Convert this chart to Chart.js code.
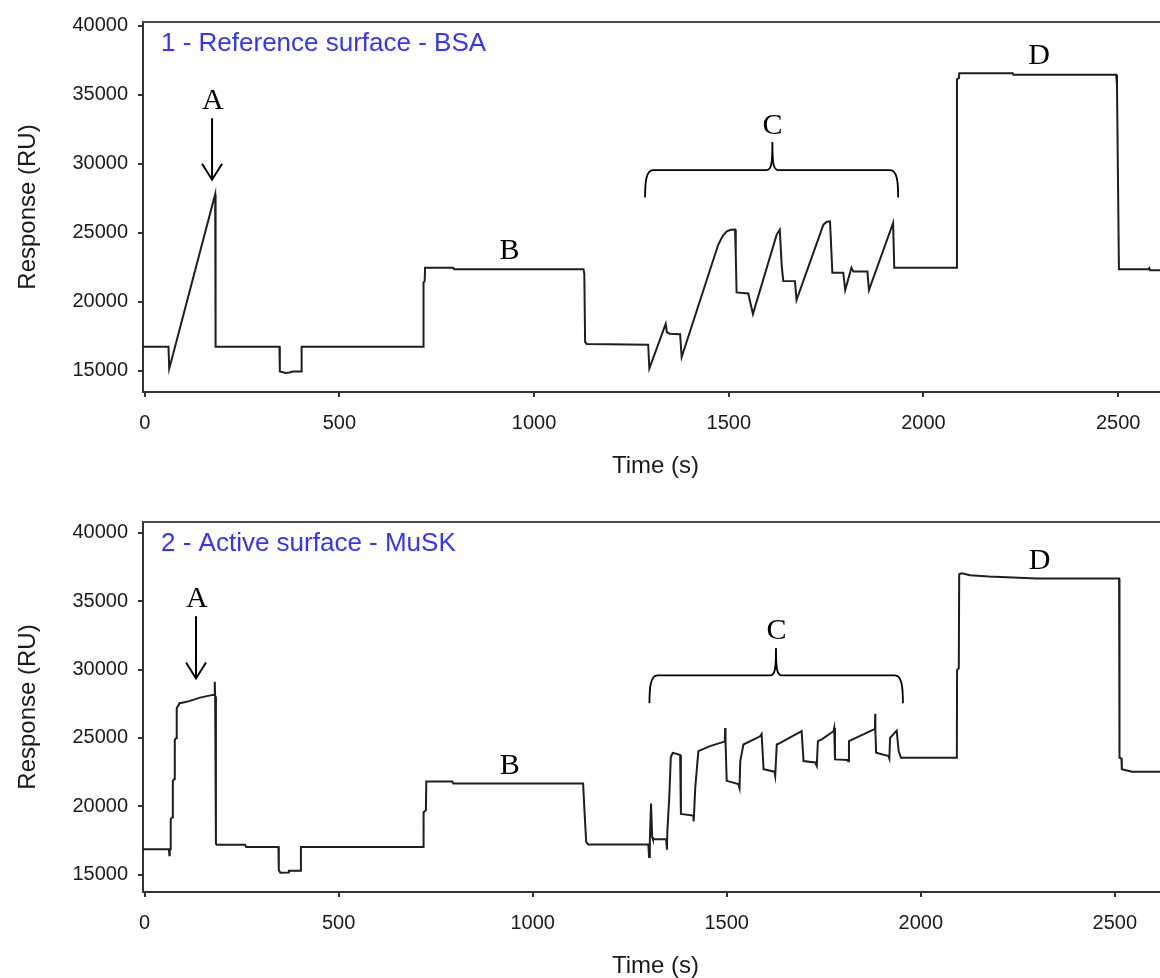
<!DOCTYPE html>
<html>
<head>
<meta charset="utf-8">
<script src="https://cdn.jsdelivr.net/npm/chart.js@4.4.1/dist/chart.umd.min.js"></script>
<style>
  html, body { margin: 0; padding: 0; background: #fff; overflow: hidden; width: 1160px; height: 978px; }
  .panel { position: absolute; left: 0; }
</style>
</head>
<body>
<div class="panel" style="top:0"><canvas id="refChart" width="1172" height="500"></canvas></div>
<div class="panel" style="top:500px"><canvas id="actChart" width="1172" height="478"></canvas></div>
<script>
// Axis tick values shared by both sensorgrams
const X_TICKS = [0, 500, 1000, 1500, 2000, 2500];
const Y_TICKS = [15000, 20000, 25000, 30000, 35000, 40000];

// Flow cell 1 - reference surface (BSA): time (s) and response (RU)
const refTime = [
  -4, 61, 63, 181, 182, 346, 347, 362, 372, 380, 402, 403,
  715, 716, 719, 720, 792, 795, 1127, 1129, 1131, 1135, 1293, 1296,
  1338, 1341, 1349, 1375, 1379, 1473, 1485, 1495, 1505, 1516, 1518, 1520,
  1550, 1562, 1623, 1631, 1636, 1640, 1670, 1674, 1743, 1752, 1760, 1766,
  1794, 1799, 1815, 1820, 1856, 1860, 1922, 1925, 2085, 2086, 2091, 2092, 2229,
  2231, 2495, 2497, 2502, 2578, 2580, 2582, 2650
];
const refResp = [
  16750, 16750, 15150, 27800, 16750, 16750, 14950, 14850, 14880, 14950, 14950, 16750,
  16750, 21400, 21500, 22470, 22470, 22355, 22355, 22000, 17100, 16950, 16900, 15170,
  18400, 17800, 17690, 17650, 16000, 24150, 24800, 25100, 25220, 25230, 23430, 20680,
  20600, 19120, 24870, 25230, 22590, 21510, 21500, 20130, 25590, 25800, 25830, 22110,
  22110, 20850, 22470, 22190, 22190, 20850, 25710, 22470, 22470, 36120, 36200, 36550, 36550,
  36440, 36440, 35650, 22360, 22360, 22450, 22280, 22280
];

// Flow cell 2 - active surface (MuSK): time (s) and response (RU)
const actTime = [
  -4, 63, 64, 65, 67, 67.5, 72, 73, 77, 78, 82, 83, 88, 90, 100, 117, 143, 176, 180, 181, 182, 184, 186,
  259, 262, 345, 346, 350, 370, 372, 402, 403, 718, 719, 725, 726, 793, 796,
  1130, 1134, 1138, 1143, 1298, 1300, 1302, 1305, 1308, 1310, 1344, 1346, 1347, 1352, 1356, 1361,
  1370, 1380, 1382, 1414, 1415, 1419, 1427, 1457, 1492, 1495, 1496, 1497, 1500,
  1530, 1533, 1535, 1543, 1586, 1590, 1595, 1623, 1625, 1629, 1638, 1693, 1698,
  1728, 1732, 1735, 1745, 1775, 1777, 1779, 1811, 1813, 1815, 1878, 1882, 1882.5, 1883, 1885,
  1917, 1919, 1921, 1938, 1943, 1949, 2093, 2093.5, 2098, 2099, 2106, 2127, 2175, 2299, 2511, 2512, 2517, 2518, 2544, 2660
];
const actResp = [
  16850, 16850, 16420, 16850, 16850, 19080, 19200, 21860, 22000, 24880, 25000, 27180, 27400, 27540, 27600, 27710, 27950, 28150, 28150, 29110, 28050, 17260, 17190,
  17190, 17020, 17020, 15330, 15130, 15150, 15280, 15280, 17020, 17020, 19560, 19700, 21810, 21810, 21660,
  21660, 19440, 17380, 17210, 17210, 16290, 17500, 20210, 17750, 17580, 17580, 16830, 18110, 20650, 23600, 23910,
  23850, 23750, 19440, 19320, 18900, 21370, 24040, 24400, 24710, 24740, 25730, 24700, 21860,
  21620, 21330, 23310, 24520, 25120, 25290, 22710, 22530, 22220, 24520, 24640, 25490, 23310,
  23200, 22950, 24760, 24900, 25490, 25730, 23430, 23380, 23300, 24760, 25610, 25640, 26770, 25600, 23910,
  23670, 23500, 25000, 25540, 24040, 23550, 23550, 29960, 30100, 36980, 37050, 36900, 36810, 36660, 36660, 23550, 23500, 22710, 22530, 22530
];

const AXIS_COLOR = '#333333';
const TRACE_COLOR = '#1e1e1e';

// Draws the plot frame, the panel caption and the A-D injection markers
const panelDecor = {
  id: 'panelDecor',
  afterDatasetsDraw(chart, args, o) {
    const { ctx, chartArea: a, scales: { x, y } } = chart;
    const px = v => x.getPixelForValue(v);
    const py = v => y.getPixelForValue(v);
    ctx.save();

    // top and right edges of the plot box
    ctx.strokeStyle = '#4a4a4a';
    ctx.lineWidth = 2;
    ctx.beginPath();
    ctx.moveTo(a.left, a.top);
    ctx.lineTo(a.right, a.top);
    ctx.lineTo(a.right, a.bottom);
    ctx.stroke();

    // caption inside the plot
    ctx.fillStyle = '#3434ff';
    ctx.font = '26px "Liberation Sans", Arial, sans-serif';
    ctx.textAlign = 'left';
    ctx.textBaseline = 'alphabetic';
    ctx.fillText(o.caption, a.left + 18, a.top + 29);

    // step letters
    ctx.fillStyle = '#000';
    ctx.font = '30px "Liberation Serif", "Times New Roman", serif';
    ctx.textAlign = 'center';
    o.letters.forEach(l => ctx.fillText(l.text, px(l.t), py(l.v)));

    // arrow
    ctx.strokeStyle = '#000';
    ctx.lineWidth = 2;
    const ax = px(o.arrow.t), ay0 = py(o.arrow.from), ay1 = py(o.arrow.to);
    ctx.beginPath();
    ctx.moveTo(ax, ay0);
    ctx.lineTo(ax, ay1);
    ctx.moveTo(ax - 10, ay1 - 16);
    ctx.lineTo(ax, ay1);
    ctx.lineTo(ax + 10, ay1 - 16);
    ctx.stroke();

    // curly brace
    const b = o.brace;
    const xl = px(b.left), xr = px(b.right), xc = px(b.mid);
    const yb = py(b.bottom), yh = py(b.bar), yt = py(b.top);
    ctx.lineWidth = 1.8;
    ctx.beginPath();
    ctx.moveTo(xl, yb);
    ctx.bezierCurveTo(xl, yh + 12, xl + 1, yh, xl + 8, yh);
    ctx.lineTo(xc - 6, yh);
    ctx.bezierCurveTo(xc - 1, yh, xc, yh - 6, xc, yt);
    ctx.bezierCurveTo(xc, yh - 6, xc + 1, yh, xc + 6, yh);
    ctx.lineTo(xr - 8, yh);
    ctx.bezierCurveTo(xr - 1, yh, xr, yh + 12, xr, yb);
    ctx.stroke();

    ctx.restore();
  }
};

function makePanel(canvasId, times, resp, range, decor) {
  const canvas = document.getElementById(canvasId);
  const H = canvas.height;
  const points = times.map((t, i) => ({ x: t, y: resp[i] }));
  return new Chart(canvas, {
    type: 'line',
    data: {
      datasets: [{
        data: points,
        borderColor: TRACE_COLOR,
        borderWidth: 2,
        pointRadius: 0,
        tension: 0,
        fill: false
      }]
    },
    options: {
      responsive: false,
      animation: false,
      devicePixelRatio: 1,
      events: [],
      layout: { padding: { top: 19, right: 4, left: 0, bottom: 0 } },
      plugins: {
        legend: { display: false },
        tooltip: { enabled: false },
        panelDecor: decor
      },
      scales: {
        x: {
          type: 'linear',
          min: range.xMin,
          max: range.xMax,
          afterBuildTicks: s => { s.ticks = X_TICKS.map(v => ({ value: v })); },
          afterFit: s => { s.height = H - 392; },
          grid: { drawOnChartArea: false, drawTicks: true, tickLength: 5, color: AXIS_COLOR, lineWidth: 2 },
          border: { display: true, color: AXIS_COLOR, width: 2 },
          ticks: {
            color: '#1a1a1a',
            padding: 14,
            maxRotation: 0,
            font: { family: '"Liberation Sans", Arial, sans-serif', size: 20 },
            callback: v => String(v)
          },
          title: {
            display: true,
            text: 'Time (s)',
            color: '#1a1a1a',
            font: { family: '"Liberation Sans", Arial, sans-serif', size: 24, lineHeight: 1 },
            padding: { top: 0, bottom: range.titlePad }
          }
        },
        y: {
          type: 'linear',
          min: range.yMin,
          max: range.yMax,
          afterBuildTicks: s => { s.ticks = Y_TICKS.map(v => ({ value: v })); },
          afterFit: s => { s.width = 143; },
          grid: { drawOnChartArea: false, drawTicks: true, tickLength: 5, color: AXIS_COLOR, lineWidth: 2 },
          border: { display: true, color: AXIS_COLOR, width: 2 },
          ticks: {
            color: '#1a1a1a',
            padding: 10,
            font: { family: '"Liberation Sans", Arial, sans-serif', size: 20 },
            callback: v => String(v)
          },
          title: {
            display: true,
            text: 'Response (RU)',
            color: '#1a1a1a',
            font: { family: '"Liberation Sans", Arial, sans-serif', size: 24, lineHeight: 1 },
            padding: { top: 16, bottom: 0 }
          }
        }
      }
    },
    plugins: [panelDecor]
  });
}

makePanel('refChart', refTime, refResp,
  { xMin: -4.4, xMax: 2628, yMin: 13470, yMax: 40266, titlePad: 22 },
  {
    caption: '1 - Reference surface - BSA',
    letters: [
      { text: 'A', t: 175, v: 33944 },
      { text: 'B', t: 937, v: 23096 },
      { text: 'C', t: 1612, v: 32170 },
      { text: 'D', t: 2297, v: 37198 }
    ],
    arrow: { t: 173, from: 33297, to: 28843 },
    brace: { left: 1285, right: 1935, mid: 1612, bottom: 27550, bar: 29540, top: 31573 }
  });

makePanel('actChart', actTime, actResp,
  { xMin: -3.9, xMax: 2637, yMin: 13729, yMax: 40798, titlePad: 0 },
  {
    caption: '2 - Active surface - MuSK',
    letters: [
      { text: 'A', t: 134.5, v: 34557 },
      { text: 'B', t: 941, v: 22366 },
      { text: 'C', t: 1628, v: 32257 },
      { text: 'D', t: 2306, v: 37337 }
    ],
    arrow: { t: 132.7, from: 33904, to: 29354 },
    brace: { left: 1301, right: 1954, mid: 1627, bottom: 27540, bar: 29572, top: 31582 }
  });
</script>
</body>
</html>
